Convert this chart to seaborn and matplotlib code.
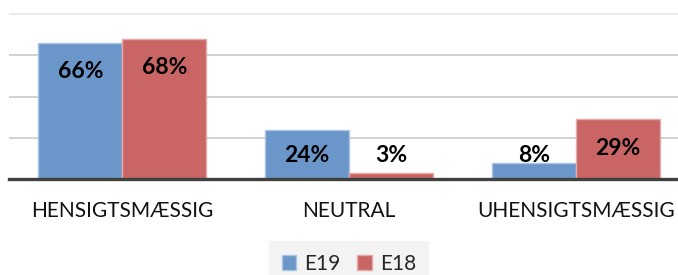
import pandas as pd
import matplotlib.pyplot as plt
import seaborn as sns

# data
categories = ['HENSIGTSMÆSSIG', 'NEUTRAL', 'UHENSIGTSMÆSSIG']
series = ['E19', 'E18']
e19 = [66, 24, 8]
e18 = [68, 3, 29]

colors = ['#6a96c9', '#c96665']
edges = ['#a9c4e4', '#e2a9a8']

df = pd.DataFrame({
    'kategori': categories * 2,
    'serie': [series[0]] * 3 + [series[1]] * 3,
    'andel': e19 + e18,
})

sns.set_theme(style='white')
plt.rcParams['font.family'] = ['Lato', 'DejaVu Sans']

fig = plt.figure(figsize=(6.78, 2.75), dpi=100)
ax = fig.add_axes([9 / 678, 96 / 275, 680 / 678, 169 / 275])

sns.barplot(data=df, x='kategori', y='andel', hue='serie', order=categories,
            hue_order=series, palette=colors, width=0.74, saturation=1,
            linewidth=1, ax=ax)

# light edge like the original
for cont, ec in zip(ax.containers, edges):
    for bar in cont:
        bar.set_edgecolor(ec)

ax.set_xlim(-0.5, 2.5)
ax.set_ylim(0, 82)
ax.set_yticks([0, 20, 40, 60, 80])
ax.set_yticklabels([])
ax.yaxis.grid(True, color='#c9c9c9', linewidth=1.2)
gl = ax.get_ygridlines()
gl[-1].set_color('#e6e6e6')
ax.set_axisbelow(True)
ax.tick_params(axis='both', length=0)
ax.tick_params(axis='x', labelsize=15, pad=16, labelcolor='#111111')
ax.set_xlabel('')
ax.set_ylabel('')
for s in ['left', 'right', 'top']:
    ax.spines[s].set_visible(False)
ax.spines['bottom'].set_color('#404040')
ax.spines['bottom'].set_linewidth(2.4)

# value labels inside the bar end
for cont in ax.containers:
    for bar in cont:
        v = bar.get_height()
        ax.text(bar.get_x() + bar.get_width() / 2, max(v - 14, 11.5), f'{v:.0f}%',
                ha='center', va='center', fontsize=16.5, fontweight='bold', color='black')

leg = ax.legend(loc='upper center', bbox_to_anchor=(349 / 678, 1 - 241 / 275),
                bbox_transform=fig.transFigure, ncol=2, frameon=True,
                facecolor='#f3f3f3', edgecolor='none', fontsize=15,
                handlelength=0.7, handleheight=0.7, handletextpad=0.4,
                columnspacing=0.8, borderpad=0.6, borderaxespad=0, fancybox=False)
leg.get_frame().set_alpha(1)
for h, ec in zip(leg.get_patches(), edges):
    h.set_edgecolor(ec)

fig.savefig('out.png', dpi=100)
